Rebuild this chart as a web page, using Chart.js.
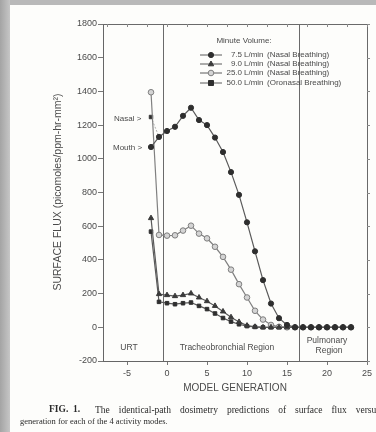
<!DOCTYPE html>
<html>
<head>
<meta charset="utf-8">
<script src="https://cdn.jsdelivr.net/npm/chart.js@4.4.1/dist/chart.umd.min.js"></script>
<style>
html,body{margin:0;padding:0;background:#b8b8b8;}
canvas{display:block;}
</style>
</head>
<body>
<canvas id="c" width="376" height="432"></canvas>
<script>
// ---- data ----
const generations = [-2,-1,0,1,2,3,4,5,6,7,8,9,10,11,12,13,14,15,16,17,18,19,20,21,22,23];
const flux75 = [1070,1130,1165,1190,1255,1303,1230,1200,1126,1040,921,786,623,451,280,141,54,14,0,0,0,0,0,0,0,0];
const flux90 = [648,197,191,185,191,201,177,155,127,94,60,32,10,3,0,0,0,0,0,0,0,0,0,0,0,0];
const flux25 = [1395,548,544,546,574,603,556,528,478,418,342,256,177,98,46,14,3,0,0,0,0,0,0,0,0,0];
const flux50 = [568,151,143,137,143,147,127,108,82,55,34,18,7,2,0,0,0,0,0,0,0,0,0,0,0,0];
const nasalGen = [-2,-1];
const nasalFlux = [1248,1130];
const seriesVolumes = ['7.5','9.0','25.0','50.0'];
const seriesUnit = 'L/min';
const seriesModes = ['(Nasal Breathing)','(Nasal Breathing)','(Nasal Breathing)','(Oronasal Breathing)'];
const xTicks = [-5,0,5,10,15,20,25];
const yTicks = [-200,0,200,400,600,800,1000,1200,1400,1600,1800];
const regionBounds = [-0.5,16.5];
const regionNames = ['URT','Tracheobronchial Region',['Pulmonary','Region']];

const pts = (xs, ys) => xs.map((v,i)=>({x:v, y:ys[i]}));
const LINE = '#5a5a5a';
const styles = [
  {pointStyle:'circle', radius:2.6, fill:'#2e2e2e', stroke:'#2e2e2e'},
  {pointStyle:'triangle', radius:3, fill:'#3a3a3a', stroke:'#3a3a3a'},
  {pointStyle:'circle', radius:2.8, fill:'#d4d4d4', stroke:'#808080'},
  {pointStyle:'rect', radius:2.5, fill:'#2e2e2e', stroke:'#2e2e2e'}
];
const seriesData = [flux75, flux90, flux25, flux50];

const datasets = seriesData.map((d,i)=>({
  label: seriesVolumes[i] + ' ' + seriesUnit,
  data: pts(generations, d),
  showLine: true,
  borderColor: i===2 ? '#808080' : LINE,
  borderWidth: 1.2,
  pointStyle: styles[i].pointStyle,
  pointRadius: styles[i].radius,
  pointBackgroundColor: styles[i].fill,
  pointBorderColor: styles[i].stroke,
  pointBorderWidth: 1,
  order: i
}));
datasets.push({
  label: 'nasal',
  data: pts(nasalGen, nasalFlux),
  showLine: true,
  borderColor: '#9a9a9a',
  borderWidth: 0.8,
  borderDash: [2,1.5],
  pointStyle: 'rect',
  pointRadius: [2.5, 0],
  pointBackgroundColor: '#2e2e2e',
  pointBorderColor: '#2e2e2e',
  order: 5
});

function marker(ctx, st, x, y){
  ctx.save();
  ctx.fillStyle = st.fill; ctx.strokeStyle = st.stroke; ctx.lineWidth = 1;
  ctx.beginPath();
  const r = st.radius;
  if (st.pointStyle==='circle') ctx.arc(x,y,r,0,Math.PI*2);
  else if (st.pointStyle==='rect') ctx.rect(x-r,y-r,2*r,2*r);
  else { ctx.moveTo(x,y-r); ctx.lineTo(x+r*0.9,y+r*0.6); ctx.lineTo(x-r*0.9,y+r*0.6); ctx.closePath(); }
  ctx.fill(); ctx.stroke();
  ctx.restore();
}

const deco = {
  id:'deco',
  beforeDraw(chart){
    const c = chart.ctx;
    c.save();
    c.fillStyle = '#b9b9b9'; c.fillRect(0,0,376,432);
    const g = c.createLinearGradient(0,0,10,0);
    g.addColorStop(0,'#a4a4a4'); g.addColorStop(1,'#c6c6c6');
    c.fillStyle = g; c.fillRect(0,0,10,432);
    c.fillStyle = '#fdfdfb'; c.fillRect(10,5,366,427);
    c.restore();
  },
  beforeDatasetsDraw(chart){
    const {ctx, chartArea:a, scales:{x,y}} = chart;
    ctx.save();
    ctx.strokeStyle = '#6a6a6a'; ctx.lineWidth = 1;
    regionBounds.forEach(v=>{
      const px = Math.round(x.getPixelForValue(v))+0.5;
      ctx.beginPath(); ctx.moveTo(px,a.top); ctx.lineTo(px,a.bottom); ctx.stroke();
    });
    ctx.beginPath();
    ctx.moveTo(a.left, a.top+0.5); ctx.lineTo(a.right+0.5, a.top+0.5); ctx.lineTo(a.right+0.5, a.bottom);
    ctx.stroke();
    ctx.strokeStyle = '#8a8a8a';
    for (let v=-7.5; v<=25; v+=2.5){
      const px = Math.round(x.getPixelForValue(v))+0.5;
      ctx.beginPath(); ctx.moveTo(px,a.top); ctx.lineTo(px,a.top+3); ctx.stroke();
    }
    yTicks.forEach(v=>{
      const py = Math.round(y.getPixelForValue(v))+0.5;
      ctx.beginPath(); ctx.moveTo(a.right,py); ctx.lineTo(a.right+3,py); ctx.stroke();
    });
    ctx.restore();
  },
  afterDraw(chart){
    const {ctx} = chart;
    ctx.save();
    ctx.fillStyle = '#4a4a4a';
    ctx.font = '8px "Liberation Sans", Arial, sans-serif';
    ctx.textBaseline = 'middle';
    ctx.textAlign = 'center';
    ctx.fillText('Minute Volume:', 244, 41);
    const rowY = [55,64,73,83];
    rowY.forEach((ry,i)=>{
      ctx.strokeStyle = LINE; ctx.lineWidth = 1;
      ctx.beginPath(); ctx.moveTo(200,ry); ctx.lineTo(222,ry); ctx.stroke();
      marker(ctx, styles[i], 211, ry);
      ctx.fillStyle = '#4a4a4a';
      ctx.textAlign = 'right'; ctx.fillText(seriesVolumes[i], 242, ry);
      ctx.textAlign = 'left'; ctx.fillText(seriesUnit, 244, ry);
      ctx.fillText(seriesModes[i], 267, ry);
    });
    ctx.textAlign = 'left';
    ctx.fillText('Nasal >', 114, 119);
    ctx.fillText('Mouth >', 113, 148);
    ctx.font = '8.5px "Liberation Sans", Arial, sans-serif';
    ctx.textAlign = 'center';
    ctx.fillText(regionNames[0], 129, 348);
    ctx.fillText(regionNames[1], 227, 348);
    ctx.fillText(regionNames[2][0], 327, 341);
    ctx.fillText(regionNames[2][1], 329, 351);
    ctx.font = '10px "Liberation Sans", Arial, sans-serif';
    ctx.fillText('MODEL GENERATION', 235, 388);
    ctx.save();
    ctx.translate(58, 192); ctx.rotate(-Math.PI/2);
    ctx.font = '10.5px "Liberation Sans", Arial, sans-serif';
    ctx.fillText('SURFACE FLUX (picomoles/ppm-hr-mm\u00B2)', 0, 0);
    ctx.restore();
    // caption
    ctx.fillStyle = '#2a2a2a';
    ctx.textAlign = 'left';
    ctx.font = 'bold 9.5px "Liberation Serif", "Times New Roman", serif';
    ctx.fillText('FIG.', 49, 410);
    ctx.fillText('1.', 73, 410);
    ctx.font = '9.5px "Liberation Serif", "Times New Roman", serif';
    const words = 'The identical-path dosimetry predictions of surface flux versus'.split(' ');
    const startX = 95, endX = 380;
    const tw = words.reduce((s,w)=>s+ctx.measureText(w).width,0);
    const gap = (endX - startX - tw)/(words.length-1);
    let cx = startX;
    words.forEach(w=>{ ctx.fillText(w, cx, 410); cx += ctx.measureText(w).width + gap; });
    ctx.font = '8.5px "Liberation Serif", "Times New Roman", serif';
    ctx.fillText('generation for each of the 4 activity modes.', 20, 421.5);
    ctx.restore();
  }
};

new Chart(document.getElementById('c'), {
  type: 'scatter',
  data: { datasets },
  options: {
    responsive: false,
    devicePixelRatio: 1,
    animation: false,
    layout: { padding: { left: 0, top: 24, right: 9, bottom: 0 } },
    plugins: { legend: { display: false }, tooltip: { enabled: false } },
    scales: {
      x: {
        type: 'linear', min: -8, max: 25,
        afterBuildTicks: s => { s.ticks = xTicks.map(v=>({value:v})); },
        afterFit: s => { s.height = 71; },
        grid: { drawOnChartArea: false, drawTicks: true, tickLength: 4, color: '#777' },
        border: { display: true, color: '#666', width: 1 },
        ticks: { color: '#4a4a4a', font: { size: 9, family: '"Liberation Sans", Arial, sans-serif' }, padding: 3, maxRotation: 0, callback: v => String(v) }
      },
      y: {
        type: 'linear', min: -200, max: 1800,
        afterBuildTicks: s => { s.ticks = yTicks.map(v=>({value:v})); },
        afterFit: s => { s.width = 103; },
        grid: { drawOnChartArea: false, drawTicks: true, tickLength: 5, color: '#777' },
        border: { display: true, color: '#666', width: 1 },
        ticks: { color: '#4a4a4a', font: { size: 9, family: '"Liberation Sans", Arial, sans-serif' }, padding: 1, callback: v => String(v) }
      }
    }
  },
  plugins: [deco]
});
</script>
</body>
</html>
